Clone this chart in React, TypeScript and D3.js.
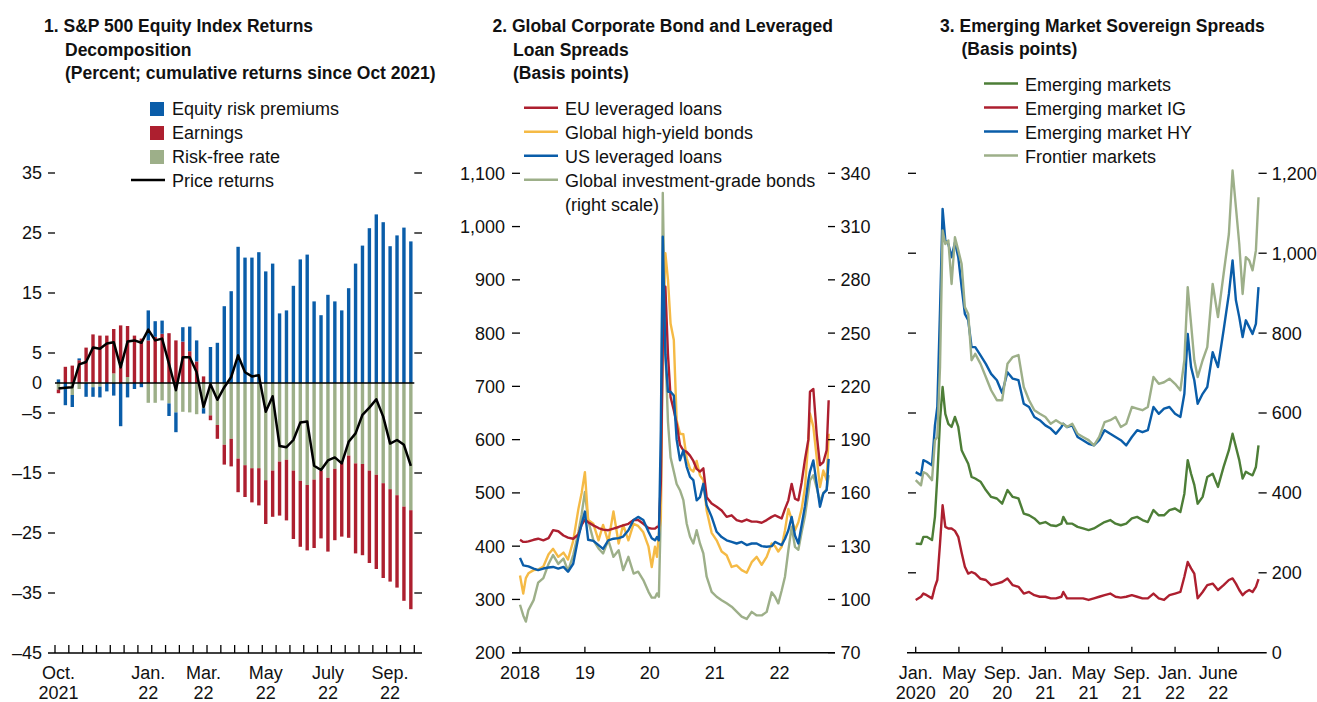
import React from "react";
import * as d3 from "d3";

const FONT = "'Liberation Sans', Arial, Helvetica, sans-serif";

const BLUE = "#0A5DA9";
const RED = "#AD1F2F";
const SAGE = "#9DAF89";
const YELLOW = "#F5BA45";
const DKGREEN = "#4D7E37";

// ---------- Panel 1: S&P 500 decomposition (weekly bars) ----------
const p1LabelIdx = [0, 13, 21, 30, 39, 48];
const p1LabelTop = ["Oct.", "Jan.", "Mar.", "May", "July", "Sep."];
const p1LabelBottom = ["2021", "22", "22", "22", "22", "22"];
const p1YTicks = [35, 25, 15, 5, 0, -5, -15, -25, -35, -45];

const erp = [0.6, -3.7, -2.0, 0.3, -2.3, -1.6, -1.8, -1.4, -2.1, -7.2, -2.4, -1.0, -0.7,
  5.0, 2.6, 2.2, -2.1, -3.3, 2.4, 4.1, 3.5, -0.9, 6.0, 6.7, 12.8, 15.3,
  22.7, 20.9, 20.9, 21.8, 18.6, 19.9, 11.6, 12.1, 16.2, 20.6, 21.4, 13.6, 11.3,
  14.7, 13.6, 12.1, 15.8, 19.9, 22.9, 25.8, 28.1, 26.8, 22.8, 24.6, 25.9, 23.6];
const earnings = [-0.6, 2.7, 2.9, 3.8, 5.7, 8.1, 7.9, 7.9, 7.4, 9.6, 8.5, 7.9, 7.4,
  7.1, 7.7, 8.2, 8.3, 7.1, 6.9, 5.3, 3.6, 1.1, -0.8, -2.3, -3.3, -4.6,
  -5.6, -5.3, -5.7, -6.2, -7.3, -7.7, -9.0, -10.1, -11.4, -11.0, -10.9, -11.4, -11.3,
  -12.3, -11.9, -12.3, -13.7, -15.0, -15.2, -15.4, -15.7, -15.8, -15.4, -15.4, -15.7, -16.5];
const riskFree = [-1.1, 0, -2.0, -1.0, 0.2, -0.7, -0.6, 0, 1.6, 0, 1.0, 0, 0,
  -3.3, -3.3, -2.9, -3.4, -4.9, -4.8, -4.9, -5.2, -4.2, -5.4, -7.0, -10.3, -9.3,
  -12.6, -13.7, -14.2, -14.2, -16.2, -14.6, -13.1, -12.8, -14.6, -16.3, -17.0, -16.1, -14.6,
  -15.8, -14.3, -13.3, -12.1, -13.4, -13.5, -14.6, -15.3, -16.7, -17.7, -18.7, -20.6, -21.2];
const priceReturns = [-0.9, -0.8, -0.7, 3.1, 3.5, 5.9, 5.7, 6.6, 6.8, 2.6, 6.9, 7.1, 6.7,
  8.9, 7.1, 7.4, 3.2, -1.2, 4.3, 4.3, 1.8, -4.0, -0.2, -2.8, -0.7, 1.0,
  4.6, 1.8, 1.1, 1.3, -4.8, -2.2, -10.5, -10.7, -9.5, -6.6, -6.4, -13.8, -14.5,
  -12.9, -12.4, -13.4, -9.8, -8.4, -5.3, -4.1, -2.7, -5.6, -10.1, -9.5, -10.3, -13.8];

// ---------- Panel 2: corporate bond and leveraged loan spreads ----------
const p2Years = [
  2018.00, 2018.05, 2018.09, 2018.13, 2018.21, 2018.28, 2018.36, 2018.44, 2018.51, 2018.59, 2018.67, 2018.74, 2018.82, 2018.90, 2018.95,
  2019.00, 2019.05, 2019.13, 2019.21, 2019.28, 2019.36, 2019.44, 2019.52, 2019.59, 2019.67, 2019.75, 2019.82, 2019.90, 2019.98,
  2020.03, 2020.08, 2020.11, 2020.14,
  2020.17, 2020.20, 2020.24, 2020.28, 2020.32, 2020.37,
  2020.414, 2020.465, 2020.517, 2020.568, 2020.62, 2020.671, 2020.722, 2020.773, 2020.825, 2020.876,
  2020.953, 2021.030, 2021.107, 2021.184, 2021.261, 2021.338, 2021.416, 2021.493, 2021.570, 2021.647, 2021.724, 2021.801, 2021.878,
  2021.929, 2021.980, 2022.032, 2022.083, 2022.135, 2022.186, 2022.237, 2022.289, 2022.340, 2022.391, 2022.443,
  2022.468, 2022.520, 2022.571, 2022.622, 2022.674, 2022.725, 2022.756];
const euLevLoans = [
  412, 408, 408, 409, 412, 414, 411, 415, 430, 428, 420, 416, 414, 422, 440,
  450, 445, 439, 434, 431, 430, 433, 436, 439, 442, 449, 449, 442, 434,
  433, 433, 436, 437,
  520, 780, 887, 760, 680, 655,
  630, 590, 580, 577, 570, 560, 545, 540, 546, 492,
  480, 474, 467, 455, 458, 449, 446, 450, 446, 446, 444, 449, 455,
  458, 455, 452, 470, 486, 517, 489, 486, 520, 563, 600,
  690, 695, 611, 552, 558, 580, 674];
const globalHY = [
  345, 311, 340, 349, 355, 356, 362, 385, 395, 380, 388, 375, 410, 470, 500,
  539, 449, 442, 411, 440, 408, 465, 405, 440, 411, 442, 438, 426, 399,
  361, 399, 380, 424,
  450, 800, 950, 900, 818, 787,
  636, 611, 610, 565, 545, 540, 560, 533, 524, 467,
  425, 411, 390, 383, 361, 364, 355, 350, 370, 380, 365, 380, 405,
  400, 390, 399, 430, 470, 450, 430, 445, 470, 510, 599,
  649, 624, 567, 511, 542, 524, 611];
const usLevLoans = [
  378, 364, 363, 362, 358, 355, 358, 360, 361, 358, 361, 352, 367, 417, 442,
  465, 412, 410, 402, 395, 411, 414, 415, 418, 430, 449, 455, 449, 427,
  415, 411, 417, 411,
  620, 981, 760, 690, 690, 683,
  600, 561, 580, 549, 530, 524, 486, 492, 517, 477,
  455, 427, 417, 411, 408, 405, 408, 402, 405, 405, 400, 399, 400,
  408, 405, 402, 414, 430, 455, 420, 405, 440, 475, 524,
  540, 561, 517, 474, 499, 505, 564];
const globalIG = [
  97, 91, 87.5, 94, 99.6, 109.5, 112, 120, 125, 120, 123, 116, 125, 138, 148,
  160.6, 144.6, 133.4, 128.7, 125.9, 133.4, 124, 127.7, 116.5, 124, 114.6, 115.6, 110.9, 104.3,
  101, 101, 103.4, 101.5,
  150, 329, 240, 200, 180, 172,
  165, 161.5, 155.9, 142.8, 135.3, 131.5, 139, 131.5, 125.9, 112.8,
  104.3, 101.5, 99.6, 97.8, 95.9, 93.1, 90.3, 89, 93, 91, 91, 93, 104,
  101.5, 97.8, 105, 112.8, 127.7, 140.9, 129.6, 128, 138, 147, 160,
  167, 170, 163, 155, 160, 162, 170];
const p2XTicks = [2018, 2019, 2020, 2021, 2022];
const p2XLabels = ["2018", "19", "20", "21", "22"];
const p2LeftTicks = [1100, 1000, 900, 800, 700, 600, 500, 400, 300, 200];
const p2RightTicks = [340, 310, 280, 250, 220, 190, 160, 130, 100, 70];

// ---------- Panel 3: EM sovereign spreads (months since Jan 2020) ----------
const p3Months = [0, 0.49, 0.71, 1.02, 1.51, 1.78, 2.00, 2.25, 2.49, 2.74, 3.02, 3.32, 3.63, 3.94, 4.25, 4.55, 4.86, 5.17, 5.51,
  6.00, 6.49, 6.98, 7.51, 8.00, 8.49, 8.98, 9.51, 10.00, 10.49, 10.98, 11.48, 12.00, 12.49, 12.98, 13.48, 13.66,
  14.00, 14.49, 14.98, 15.48, 16.00, 16.49, 16.98, 17.48, 18.00, 18.49, 18.98, 19.48, 20.00, 20.49, 20.98, 21.48,
  22.00, 22.49, 22.98, 23.48, 24.00, 24.49, 24.86, 25.17, 25.48, 25.78, 26.09, 26.55, 26.98, 27.48, 27.97,
  28.49, 28.98, 29.32, 29.63, 29.94, 30.25, 30.55, 30.86, 31.17, 31.48, 31.72];
const emAll = [273, 272, 290, 290, 282, 340, 440, 582, 665, 598, 573, 565, 590, 565, 507, 490, 473, 440, 436,
  428, 407, 390, 386, 373, 407, 390, 386, 348, 344, 336, 323, 327, 319, 317, 323, 340,
  323, 323, 315, 311, 307, 311, 319, 327, 332, 323, 319, 323, 336, 340, 332, 327,
  357, 344, 344, 357, 361, 352, 398, 482, 448, 420, 373, 390, 440, 448, 415,
  465, 507, 548, 515, 482, 436, 453, 448, 444, 465, 519];
const emIG = [132, 140, 148, 144, 136, 165, 182, 273, 369, 315, 311, 311, 305, 290, 250, 215, 198, 202, 198,
  185, 182, 169, 173, 177, 186, 169, 165, 148, 152, 144, 140, 140, 136, 136, 140, 152,
  136, 136, 136, 136, 132, 136, 140, 144, 148, 140, 138, 140, 144, 140, 136, 136,
  148, 136, 132, 144, 148, 152, 190, 227, 211, 198, 136, 152, 169, 173, 157,
  169, 182, 186, 173, 157, 144, 152, 157, 152, 165, 184];
const emHY = [452, 444, 482, 478, 469, 569, 615, 857, 1111, 1032, 1023, 990, 1027, 990, 915, 848, 832, 765, 765,
  744, 723, 698, 682, 650, 702, 686, 682, 623, 615, 590, 582, 569, 561, 548, 565, 573,
  565, 569, 540, 532, 523, 519, 532, 557, 548, 540, 532, 519, 540, 557, 552, 557,
  615, 598, 611, 615, 598, 590, 648, 798, 715, 682, 623, 648, 665, 752, 715,
  807, 898, 982, 882, 840, 790, 832, 815, 798, 823, 915];
const frontier = [432, 419, 452, 448, 432, 532, 540, 715, 1057, 1023, 1032, 923, 1040, 1007, 973, 865, 848, 732, 748,
  723, 690, 657, 632, 632, 723, 740, 745, 665, 632, 607, 598, 590, 573, 582, 573, 573,
  565, 573, 548, 540, 532, 519, 540, 577, 582, 590, 565, 573, 615, 611, 607, 615,
  690, 673, 677, 686, 673, 657, 732, 915, 823, 732, 690, 732, 765, 923, 840,
  948, 1048, 1207, 1115, 1023, 898, 990, 982, 957, 1007, 1140];
const p3XTicks = [0, 4, 8, 12, 16, 20, 24, 28];
const p3XTop = ["Jan.", "May", "Sep.", "Jan.", "May", "Sep.", "Jan.", "June"];
const p3XBottom = ["2020", "20", "20", "21", "21", "21", "22", "22"];
const p3YTicks = [1200, 1000, 800, 600, 400, 200, 0];

const fmtNeg = (v: number) => (v < 0 ? "\u2013" + Math.abs(v) : String(v));
const fmtComma = d3.format(",");

const TXT = { fontFamily: FONT, fontSize: 18, fill: "#111" } as const;
const TITLE = { fontFamily: FONT, fontSize: 17.5, fontWeight: 700, fill: "#111" } as const;

function XLabels({ xs, top, bottom }: { xs: number[]; top: string[]; bottom?: string[] }) {
  return (
    <g>
      {xs.map((x, i) => (
        <g key={i}>
          <text x={x} y={678.5} textAnchor="middle" style={TXT}>{top[i]}</text>
          {bottom && <text x={x} y={698.5} textAnchor="middle" style={TXT}>{bottom[i]}</text>}
        </g>
      ))}
    </g>
  );
}

function Panel1() {
  const x = d3.scaleLinear().domain([-0.5, 51.5]).range([55, 414.3]);
  const y = d3.scaleLinear().domain([-45, 35]).range([653, 173]);
  const rows = erp.map((v, i) => ({ i, rfr: riskFree[i], earn: earnings[i], erp: v }));
  const stacked = d3.stack<any>().keys(["rfr", "earn", "erp"]).offset(d3.stackOffsetDiverging)(rows);
  const col: Record<string, string> = { rfr: SAGE, earn: RED, erp: BLUE };
  const bw = 3.4;
  const line = d3.line<number>().x((_, i) => x(i)).y((d) => y(d));
  const tickIdx = d3.range(-0.5, 52, 2);
  return (
    <g>
      <text x={44} y={32} style={TITLE}>1. S&amp;P 500 Equity Index Returns</text>
      <text x={65} y={55.5} style={TITLE}>Decomposition</text>
      <text x={65} y={79} style={TITLE}>(Percent; cumulative returns since Oct 2021)</text>
      <rect x={150} y={102} width={14} height={14} fill={BLUE} />
      <text x={172} y={115} style={TXT}>Equity risk premiums</text>
      <rect x={150} y={126} width={14} height={14} fill={RED} />
      <text x={172} y={139} style={TXT}>Earnings</text>
      <rect x={150} y={150} width={14} height={14} fill={SAGE} />
      <text x={172} y={163} style={TXT}>Risk-free rate</text>
      <line x1={131} x2={165} y1={180} y2={180} stroke="#000" strokeWidth={2.5} />
      <text x={172} y={187} style={TXT}>Price returns</text>
      {stacked.map((s) => (
        <g key={s.key} fill={col[s.key]}>
          {s.map((d, i) => {
            const y0 = y(d[0]);
            const y1 = y(d[1]);
            const h = Math.abs(y0 - y1);
            if (h < 0.01) return null;
            return <rect key={i} x={x(i) - bw / 2} y={Math.min(y0, y1)} width={bw} height={h} />;
          })}
        </g>
      ))}
      <line x1={55} x2={414.3} y1={y(0)} y2={y(0)} stroke="#000" strokeWidth={1.5} />
      <path d={line(priceReturns) || ""} fill="none" stroke="#000" strokeWidth={2.5} strokeLinejoin="round" />
      {p1YTicks.map((t) => (
        <g key={t}>
          <text x={42} y={y(t)} dy="0.36em" textAnchor="end" style={TXT}>{fmtNeg(t)}</text>
          {t !== 0 && t !== -45 && (
            <>
              <line x1={48} x2={55} y1={y(t)} y2={y(t)} stroke="#000" strokeWidth={1.3} />
              <line x1={414.3} x2={422} y1={y(t)} y2={y(t)} stroke="#000" strokeWidth={1.3} />
            </>
          )}
        </g>
      ))}
      <line x1={48} x2={422} y1={y(-45)} y2={y(-45)} stroke="#000" strokeWidth={1.5} />
      {tickIdx.map((t) => (
        <line key={t} x1={x(t)} x2={x(t)} y1={y(-45)} y2={y(-45) - 8} stroke="#000" strokeWidth={1.3} />
      ))}
      <XLabels xs={p1LabelIdx.map((i) => x(i))} top={p1LabelTop} bottom={p1LabelBottom} />
    </g>
  );
}

function Panel2() {
  const x = d3.scaleLinear().domain([2018, 2022]).range([520, 779.6]);
  const yL = d3.scaleLinear().domain([200, 1100]).range([652.7, 173.3]);
  const yR = d3.scaleLinear().domain([70, 340]).range([652.7, 173.3]);
  const mk = (vals: number[], ys: d3.ScaleLinear<number, number>) =>
    d3.line<number>().x((_, i) => x(p2Years[i])).y((d) => ys(d))(vals) || "";
  const right = 828;
  return (
    <g>
      <text x={492.5} y={32} style={TITLE}>2. Global Corporate Bond and Leveraged</text>
      <text x={513} y={55.5} style={TITLE}>Loan Spreads</text>
      <text x={513} y={79} style={TITLE}>(Basis points)</text>
      {[
        ["EU leveraged loans", RED],
        ["Global high-yield bonds", YELLOW],
        ["US leveraged loans", BLUE],
        ["Global investment-grade bonds", SAGE],
      ].map(([lab, c], i) => (
        <g key={lab}>
          <line x1={524} x2={558} y1={107.7 + 24 * i} y2={107.7 + 24 * i} stroke={c} strokeWidth={2.5} />
          <text x={565} y={114.5 + 24 * i} style={TXT}>{lab}</text>
        </g>
      ))}
      <text x={565} y={210.5} style={TXT}>(right scale)</text>
      <g fill="none" strokeWidth={2.4} strokeLinejoin="round">
        <path d={mk(globalIG, yR)} stroke={SAGE} />
        <path d={mk(globalHY, yL)} stroke={YELLOW} />
        <path d={mk(euLevLoans, yL)} stroke={RED} />
        <path d={mk(usLevLoans, yL)} stroke={BLUE} />
      </g>
      {p2LeftTicks.map((t) => (
        <g key={t}>
          <text x={505} y={yL(t)} dy="0.36em" textAnchor="end" style={TXT}>{fmtComma(t)}</text>
          <line x1={512} x2={520} y1={yL(t)} y2={yL(t)} stroke="#000" strokeWidth={1.3} />
        </g>
      ))}
      {p2RightTicks.map((t) => (
        <g key={t}>
          <text x={840.5} y={yR(t)} dy="0.36em" style={TXT}>{fmtComma(t)}</text>
          <line x1={right} x2={835} y1={yR(t)} y2={yR(t)} stroke="#000" strokeWidth={1.3} />
        </g>
      ))}
      <line x1={512} x2={835} y1={652.7} y2={652.7} stroke="#000" strokeWidth={1.5} />
      {p2XTicks.map((t) => (
        <line key={t} x1={x(t)} x2={x(t)} y1={652.7} y2={646.7} stroke="#000" strokeWidth={1.3} />
      ))}
      <XLabels xs={p2XTicks.map((t) => x(t))} top={p2XLabels} />
    </g>
  );
}

function Panel3() {
  const x = d3.scaleLinear().domain([0, 28]).range([915.7, 1218.3]);
  const y = d3.scaleLinear().domain([0, 1200]).range([652.7, 173.3]);
  const mk = (vals: number[]) => d3.line<number>().x((_, i) => x(p3Months[i])).y((d) => y(d))(vals) || "";
  return (
    <g>
      <text x={940} y={31.7} style={TITLE}>3. Emerging Market Sovereign Spreads</text>
      <text x={961.5} y={55.3} style={TITLE}>(Basis points)</text>
      {[
        ["Emerging markets", DKGREEN],
        ["Emerging market IG", RED],
        ["Emerging market HY", BLUE],
        ["Frontier markets", SAGE],
      ].map(([lab, c], i) => (
        <g key={lab}>
          <line x1={984} x2={1018} y1={83.5 + 24 * i} y2={83.5 + 24 * i} stroke={c} strokeWidth={2.5} />
          <text x={1025} y={90.5 + 24 * i} style={TXT}>{lab}</text>
        </g>
      ))}
      <g fill="none" strokeWidth={2.4} strokeLinejoin="round">
        <path d={mk(emAll)} stroke={DKGREEN} />
        <path d={mk(emIG)} stroke={RED} />
        <path d={mk(emHY)} stroke={BLUE} />
        <path d={mk(frontier)} stroke={SAGE} />
      </g>
      {p3YTicks.map((t) => (
        <g key={t}>
          {t !== 0 && (
            <>
              <line x1={908} x2={916} y1={y(t)} y2={y(t)} stroke="#000" strokeWidth={1.3} />
              <line x1={1258.5} x2={1266.7} y1={y(t)} y2={y(t)} stroke="#000" strokeWidth={1.3} />
            </>
          )}
          <text x={1271.7} y={y(t)} dy="0.36em" style={TXT}>{fmtComma(t)}</text>
        </g>
      ))}
      <line x1={907} x2={1266.7} y1={652.7} y2={652.7} stroke="#000" strokeWidth={1.5} />
      {p3XTicks.map((t) => (
        <line key={t} x1={x(t)} x2={x(t)} y1={652.7} y2={646.7} stroke="#000" strokeWidth={1.3} />
      ))}
      <XLabels xs={p3XTicks.map((t) => x(t))} top={p3XTop} bottom={p3XBottom} />
    </g>
  );
}

export default function App() {
  return (
    <svg
      width={1317}
      height={702}
      viewBox="0 0 1317 702"
      style={{ position: "absolute", left: 0, top: 0, background: "#fff" }}
    >
      <rect width={1317} height={702} fill="#fff" />
      <Panel1 />
      <Panel2 />
      <Panel3 />
    </svg>
  );
}
